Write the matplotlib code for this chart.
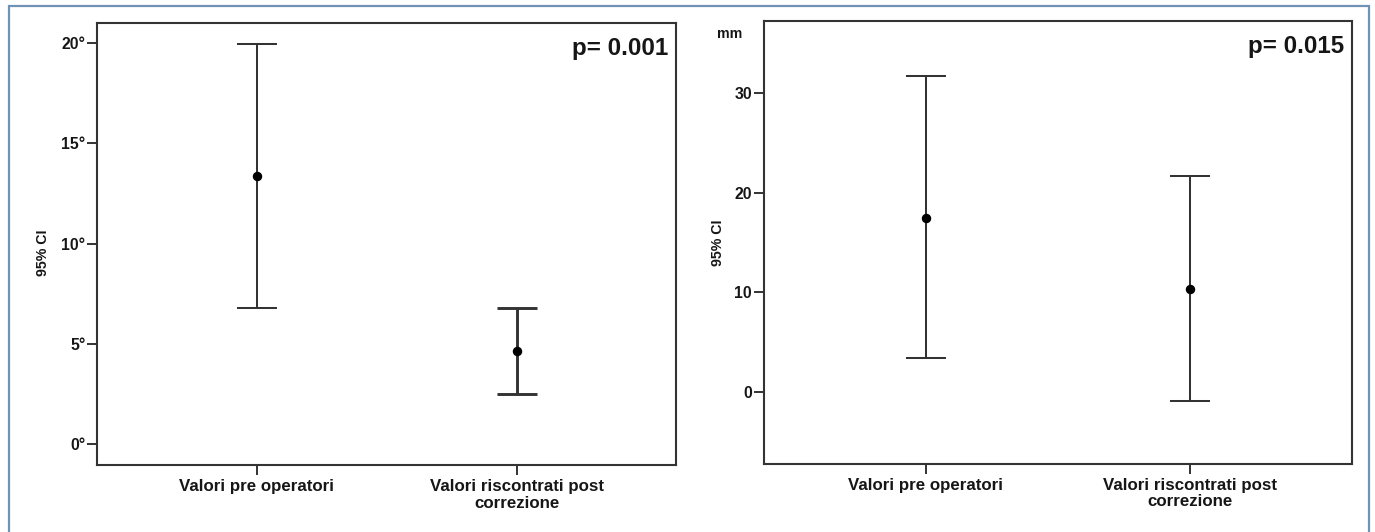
import matplotlib
matplotlib.use("Agg")
import matplotlib.pyplot as plt
from matplotlib.patches import Rectangle

plt.rcParams["font.family"] = ["Liberation Sans", "DejaVu Sans"]
plt.rcParams["font.weight"] = "bold"

# categories shared by both panels
categories = ["Valori pre operatori", "Valori riscontrati post\ncorrezione"]

# left panel: angle (degrees)
angle_mean = [13.39, 4.63]
angle_low = [6.79, 2.48]
angle_high = [19.95, 6.77]
angle_ticks = [0, 5, 10, 15, 20]
angle_ticklabels = ["0°", "5°", "10°", "15°", "20°"]
angle_p = "p= 0.001"

# right panel: millimetres
mm_mean = [17.49, 10.35]
mm_low = [3.42, -0.92]
mm_high = [31.68, 21.7]
mm_ticks = [0, 10, 20, 30]
mm_ticklabels = ["0", "10", "20", "30"]
mm_p = "p= 0.015"

LINE = "#333333"
TEXT = "#161616"


def draw_panel(ax, mean, low, high, ticks, ticklabels, ylim, ptext, widths):
    for i, (m, lo, hi) in enumerate(zip(mean, low, high)):
        ax.errorbar([i], [m], yerr=[[m - lo], [hi - m]], fmt="o", color=LINE,
                    ecolor=LINE, elinewidth=widths[i], capthick=widths[i],
                    capsize=14.7, markersize=5.8, markerfacecolor="black",
                    markeredgecolor="black")
    ax.set_xlim(-0.612, 1.611)
    ax.set_ylim(*ylim)
    ax.set_xticks(range(len(categories)))
    ax.set_xticklabels(categories, fontsize=12.2, fontweight="bold",
                       color=TEXT, linespacing=1.12)
    ax.set_yticks(ticks)
    ax.set_yticklabels(ticklabels, fontsize=11.4, fontweight="bold", color=TEXT)
    ax.tick_params(axis="both", direction="out", length=7.2, width=1.4,
                   color=LINE, pad=1.5)
    ax.tick_params(axis="x", pad=3)
    for sp in ax.spines.values():
        sp.set_linewidth(1.5)
        sp.set_color(LINE)
    ax.text(0.987, 0.967, ptext, transform=ax.transAxes, ha="right", va="top",
            fontsize=17.4, fontweight="bold", color=TEXT)


fig = plt.figure(figsize=(13.75, 5.32), dpi=100)
fig.patch.set_facecolor("white")

ax1 = fig.add_axes([0.0708, 0.1259, 0.4209, 0.8314])
draw_panel(ax1, angle_mean, angle_low, angle_high, angle_ticks,
           angle_ticklabels, (-1.06, 21.03), angle_p, [1.45, 2.1])
fig.text(43 / 1375, 1 - 253 / 532, "95% CI", rotation=90, ha="center",
         va="center", fontsize=10.2, fontweight="bold", color=TEXT)

ax2 = fig.add_axes([0.5556, 0.1284, 0.4274, 0.8327])
draw_panel(ax2, mm_mean, mm_low, mm_high, mm_ticks, mm_ticklabels,
           (-7.19, 37.25), mm_p, [1.45, 1.45])
fig.text(718 / 1375, 1 - 243 / 532, "95% CI", rotation=90, ha="center",
         va="center", fontsize=10.2, fontweight="bold", color=TEXT)
fig.text(730 / 1375, 1 - 34 / 532, "mm", ha="center", va="center",
         fontsize=10.2, fontweight="bold", color=TEXT)

# thin blue-grey frame around the whole figure
fig.patches.append(Rectangle((9 / 1375, -0.02), 1360 / 1375, 1.02 - 6 / 532,
                             transform=fig.transFigure, fill=False,
                             edgecolor="#6f93b5", linewidth=1.6))

fig.savefig("out.png", dpi=100)
